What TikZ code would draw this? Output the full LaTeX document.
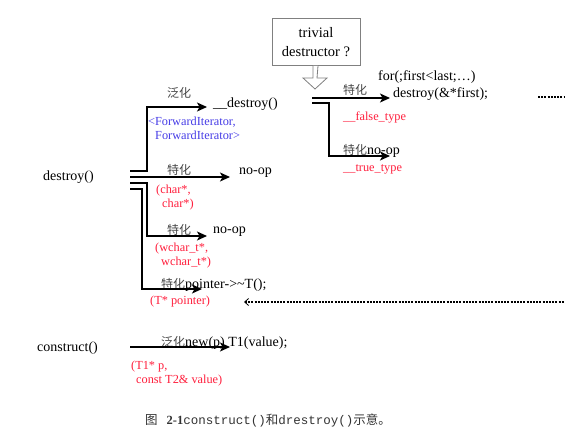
\documentclass[tikz,border=0pt]{standalone}
\usepackage{fontspec}
\setmainfont{Liberation Serif}
\setmonofont{Liberation Mono}
\newfontfamily\cjk{Noto Sans CJK SC}
\usetikzlibrary{arrows.meta}
\definecolor{lblred}{RGB}{255,30,60}
\definecolor{lblblue}{RGB}{70,60,230}
\definecolor{cjkgray}{RGB}{70,70,70}
\tikzset{
    code/.style={inner sep=0pt,anchor=west,font=\fontsize{14}{15}\selectfont},
    lbl/.style={inner sep=0pt,anchor=west,align=left,font=\fontsize{12.3}{14}\selectfont},
    kind/.style={inner sep=0pt,font=\cjk\fontsize{12}{13}\selectfont,text=cjkgray},
    flow/.style={line width=1.1pt,-{Stealth[length=10pt,width=9pt,inset=2.5pt]}},
    dots/.style={line width=1.3pt,dash pattern=on 2pt off 1.2pt},
}
\begin{document}
\begin{tikzpicture}[x=1pt,y=-1pt]
    \useasboundingbox (0,0) rectangle (578,438);
    % destroy() and its four branches
    \node[code] (dst) at (43,177) {destroy()};
    \node[code] (gdst) at (213,104) {\_\_destroy()};
    \node[kind] (g1) at (179,93) {泛化};
    \node[lbl,text=lblblue] (fwd) at (148,128) {<ForwardIterator,\\\hspace{7pt}ForwardIterator>};
    \node[kind] (k2) at (179,170) {特化};
    \node[code] (nop2) at (239,173) {no-op};
    \node[lbl,text=lblred] (chr) at (156,198) {(char*,\\\hspace{6pt}char*)};
    \node[kind] (k3) at (179,230) {特化};
    \node[code] (nop3) at (213,232) {no-op};
    \node[lbl,text=lblred] (wchr) at (155,256) {(wchar\_t*,\\\hspace{6pt}wchar\_t*)};
    \node[code] (ptr) at (161,285) {{\cjk\fontsize{12}{13}\selectfont\color{cjkgray}特化}pointer->\textasciitilde T();};
    \node[lbl,text=lblred] (tptr) at (150,302) {(T* pointer)};
    \foreach \n/\y in {1/171,2/177,3/183,4/189}
        \coordinate (s\n) at (130,\y);
    \coordinate (t1) at (207,107);
    \coordinate (t2) at (230,177);
    \coordinate (t3) at (207,236);
    \coordinate (t4) at (202,289);
    \draw[flow] (s1)--++(17,0)|-(t1);
    \draw[flow] (s2)--(t2);
    \draw[flow] (s3)--++(17,0)|-(t3);
    \draw[flow] (s4)--++(12,0)|-(t4);
    % trivial destructor ?
    \node[draw=gray,line width=1pt,minimum width=88pt,minimum height=47pt,align=center,
        font=\fontsize{14.5}{19}\selectfont] (triv) at (316,42) {trivial\\destructor ?};
    \draw[gray,fill=white,line width=.8pt] ([xshift=-3pt]triv.south)--++(0,12)--++(-10,0)
        --++(12,11)--++(12,-11)--++(-10,0)--([xshift=2pt]triv.south);
    \node[kind] (kA) at (355,90) {特化};
    \node[code] (loop) at (378,77) {for(;first<last;…)};
    \node[code] (dfst) at (393,94) {destroy(\&*first);};
    \node[lbl,text=lblred] (fls) at (343,117) {\_\_false\_type};
    \node[code] (nopB) at (343,151) {{\cjk\fontsize{12}{13}\selectfont\color{cjkgray}特化}no-op};
    \node[lbl,text=lblred] (tru) at (343,169) {\_\_true\_type};
    \coordinate (sA) at (312,98);
    \coordinate (sB) at (312,103);
    \coordinate (tA) at (390,98);
    \coordinate (tB) at (390,156);
    \draw[flow] (sA)--(tA);
    \draw[flow] (sB)--++(17,0)|-(tB);
    \coordinate (m1) at (538,97);
    \coordinate (m2) at (565,97);
    \draw[dots] (m1)--(m2);
    \coordinate (r1) at (244,302);
    \coordinate (r2) at (565,302);
    \draw[dots,{Straight Barb[length=4pt,width=7pt,line width=.8pt]}-] (r1)--(r2);
    % construct()
    \node[code] (cst) at (37,348) {construct()};
    \node[code] (cnew) at (161,343) {{\cjk\fontsize{12}{13}\selectfont\color{cjkgray}泛化}new(p) T1(value);};
    \node[lbl,text=lblred] (targ) at (131,374) {(T1* p,\\\hspace{5pt}const T2\& value)};
    \coordinate (sc) at (130,347);
    \coordinate (tc) at (230,347);
    \draw[flow] (sc)--(tc);
    % caption
    \node[inner sep=0pt,text=black!80,font=\fontsize{12.5}{14}\selectfont] (cap) at (268,420)
        {{\cjk 图}\hspace{9pt}\textbf{2-1}\texttt{construct()}{\cjk 和}\texttt{drestroy()}{\cjk 示意。}};
\end{tikzpicture}
\end{document}
